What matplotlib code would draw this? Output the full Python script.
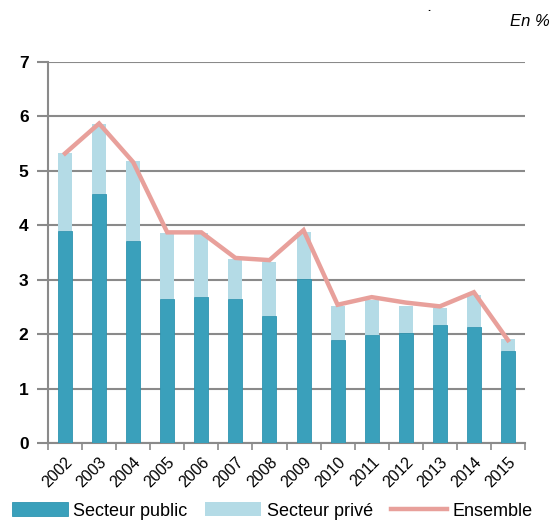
import matplotlib
matplotlib.use("Agg")
import matplotlib.pyplot as plt
import numpy as np
from matplotlib.patches import Patch
from matplotlib.lines import Line2D

years = ["2002", "2003", "2004", "2005", "2006", "2007", "2008",
         "2009", "2010", "2011", "2012", "2013", "2014", "2015"]
public = [3.89, 4.58, 3.72, 2.65, 2.69, 2.65, 2.34,
          3.01, 1.89, 1.99, 2.03, 2.17, 2.13, 1.69]
prive = [1.43, 1.29, 1.46, 1.21, 1.16, 0.73, 0.98,
         0.87, 0.62, 0.63, 0.49, 0.31, 0.59, 0.22]
ensemble = [5.32, 5.87, 5.16, 3.87, 3.87, 3.40, 3.36,
            3.91, 2.54, 2.68, 2.58, 2.51, 2.77, 1.89]

plt.rcParams['font.family'] = ['Liberation Sans', 'DejaVu Sans']

c_pub = "#3aa0bb"
c_priv = "#b4dbe6"
c_line = "#e8a09b"
c_grid = "#8a8a8a"

fig = plt.figure(figsize=(5.55, 5.23), dpi=100)
ax = fig.add_axes([48/555, 80/523, (525-48)/555, (443-62)/523])

x = np.arange(len(years))
w = 0.41
ax.bar(x, public, w, color=c_pub, edgecolor="#2f94b0", linewidth=0.6, zorder=3)
ax.bar(x, prive, w, bottom=public, color=c_priv, edgecolor="none", zorder=3)
ax.plot(x, ensemble, color=c_line, lw=3.2, solid_joinstyle='miter', zorder=4)

ax.set_xlim(-0.5, len(years) - 0.5)
ax.set_ylim(0, 7)
ax.set_yticks(range(0, 8))
ax.yaxis.grid(True, color=c_grid, lw=1.5, zorder=0)
ax.set_axisbelow(True)

for s in ["top", "right"]:
    ax.spines[s].set_visible(False)
ax.spines["left"].set_color(c_grid)
ax.spines["left"].set_linewidth(1.5)
ax.spines["bottom"].set_color(c_grid)
ax.spines["bottom"].set_linewidth(1.5)

ax.tick_params(axis="y", length=8, width=1.5, color=c_grid, labelsize=12.5, pad=6)
for lab in ax.get_yticklabels():
    lab.set_fontweight("bold")

ax.set_xticks(x)
ax.set_xticklabels(years, rotation=45, ha="right", rotation_mode="anchor", fontsize=11.5)
ax.tick_params(axis="x", which="major", length=0, pad=8)
ax.set_xticks(np.arange(-0.5, len(years), 1.0), minor=True)
ax.tick_params(axis="x", which="minor", length=5, width=1.2, color=c_grid)

fig.text(550/555, 1 - 22/523, "En %", ha="right", va="center",
         fontsize=12, style="italic")
fig.text(429/555, 1 - 11/523, ".", ha="center", va="baseline",
         fontsize=8, fontweight="bold")

handles = [Patch(facecolor=c_pub, edgecolor="#2f94b0", lw=0.6),
           Patch(facecolor=c_priv, edgecolor="none"),
           Line2D([0], [0], color=c_line, lw=3.2)]
labels = ["Secteur public", "Secteur privé", "Ensemble"]
fig.legend(handles, labels, loc="center", bbox_to_anchor=(272/555, 1 - 511/523),
           ncol=3, frameon=False, fontsize=13, handlelength=3.1,
           handleheight=0.8, columnspacing=1.0, handletextpad=0.3,
           borderpad=0.0, borderaxespad=0.0)

fig.savefig("out.png", dpi=100)
